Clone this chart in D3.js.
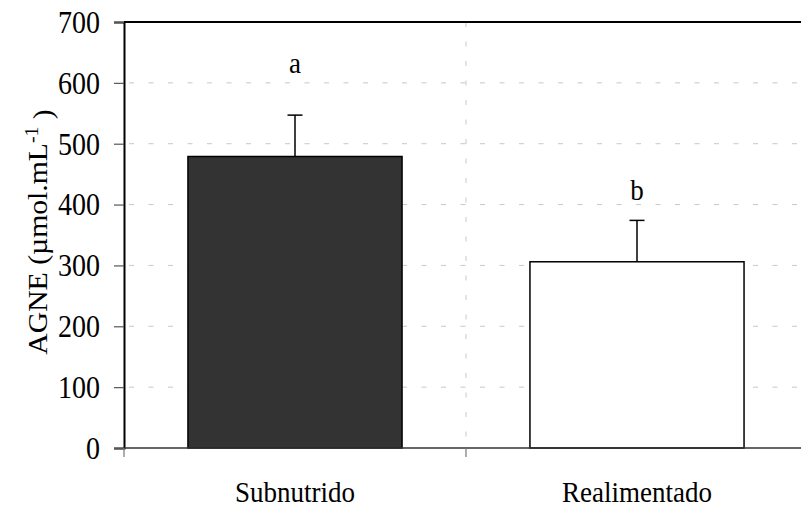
<!DOCTYPE html>
<html>
<head>
<meta charset="utf-8">
<script src="https://cdn.jsdelivr.net/npm/d3@7"></script>
<style>
  body { margin: 0; background: #fff; }
  text { font-family: "Liberation Serif", "Times New Roman", serif; fill: #000; }
</style>
</head>
<body>
<svg id="chart" width="801" height="513"></svg>
<script>
const categories = ["Subnutrido", "Realimentado"];
const means = [479, 306];
const errors = [68, 68];
const letters = ["a", "b"];
const letterValues = [617, 407];
const yTicks = [0, 100, 200, 300, 400, 500, 600, 700];

const width = 801;
const height = 513;
const margin = { top: 22, left: 124, bottom: 65 };
const plotRight = 808;
// the original picture is a bit stretched vertically
const stretch = 1.09;

const svg = d3.select("#chart");

const x = d3.scaleBand()
    .domain(categories)
    .range([margin.left, plotRight])
    .padding(0);

const y = d3.scaleLinear()
    .domain([0, 700])
    .range([height - margin.bottom, margin.top]);

const barWidth = x.bandwidth() * 0.626;

// Gridlines (horizontal)
svg.append("g")
    .selectAll("line")
    .data(yTicks.filter(d => d > 0 && d < 700))
    .enter()
    .append("line")
    .attr("x1", margin.left)
    .attr("x2", plotRight)
    .attr("y1", d => y(d))
    .attr("y2", d => y(d))
    .attr("stroke", "#c8c8c8")
    .attr("stroke-width", 1)
    .attr("stroke-dasharray", "5,14.5")
    .attr("stroke-dashoffset", -5);

// Vertical gridline between categories
svg.append("line")
    .attr("x1", x(categories[1]))
    .attr("x2", x(categories[1]))
    .attr("y1", y(700))
    .attr("y2", y(0))
    .attr("stroke", "#c8c8c8")
    .attr("stroke-width", 1)
    .attr("stroke-dasharray", "5,14.5");

// Top border
svg.append("line")
    .attr("x1", margin.left)
    .attr("x2", plotRight)
    .attr("y1", y(700))
    .attr("y2", y(700))
    .attr("stroke", "#000")
    .attr("stroke-width", 2);

// Bars
svg.append("g")
    .selectAll("rect")
    .data(categories)
    .enter()
    .append("rect")
    .attr("x", d => x(d) + (x.bandwidth() - barWidth) / 2)
    .attr("y", (d, i) => y(means[i]))
    .attr("width", barWidth)
    .attr("height", (d, i) => y(0) - y(means[i]))
    .attr("fill", (d, i) => i === 0 ? "#333333" : "#ffffff")
    .attr("stroke", "#000")
    .attr("stroke-width", 1.5);

// Error bars (upper only)
const err = svg.append("g");
categories.forEach((c, i) => {
    const cx = x(c) + x.bandwidth() / 2;
    err.append("line")
        .attr("x1", cx).attr("x2", cx)
        .attr("y1", y(means[i]))
        .attr("y2", y(means[i] + errors[i]))
        .attr("stroke", "#000")
        .attr("stroke-width", 1.5);
    err.append("line")
        .attr("x1", cx - 7.5).attr("x2", cx + 7.5)
        .attr("y1", y(means[i] + errors[i]))
        .attr("y2", y(means[i] + errors[i]))
        .attr("stroke", "#000")
        .attr("stroke-width", 1.5);
});

// Significance letters
svg.append("g")
    .selectAll("text")
    .data(letters)
    .enter()
    .append("text")
    .attr("transform", (d, i) =>
        `translate(${x(categories[i]) + x.bandwidth() / 2},${y(letterValues[i])}) scale(1,${stretch})`)
    .attr("text-anchor", "middle")
    .style("font-size", "27px")
    .text(d => d);

// Y axis
const yAxis = svg.append("g")
    .attr("transform", `translate(${margin.left},0)`)
    .call(d3.axisLeft(y).tickValues(yTicks).tickSize(10).tickPadding(14));
yAxis.select(".domain").attr("stroke", "#000").attr("stroke-width", 2);
yAxis.selectAll(".tick line").attr("stroke", "#555").attr("stroke-width", 1.2);
yAxis.selectAll(".tick text")
    .style("font-size", "28px")
    .style("font-family", "'Liberation Serif', 'Times New Roman', serif")
    .attr("fill", "#000")
    .attr("dy", "0.34em")
    .attr("transform", `scale(1,${stretch})`);

// X axis line and ticks at category boundaries
svg.append("line")
    .attr("x1", margin.left)
    .attr("x2", plotRight)
    .attr("y1", y(0))
    .attr("y2", y(0))
    .attr("stroke", "#333")
    .attr("stroke-width", 1.5);

const boundaries = categories.map(c => x(c)).concat([plotRight]);
svg.append("g")
    .selectAll("line")
    .data(boundaries)
    .enter()
    .append("line")
    .attr("x1", d => d).attr("x2", d => d)
    .attr("y1", y(0)).attr("y2", y(0) + 9)
    .attr("stroke", "#777")
    .attr("stroke-width", 1.2);

// X labels
svg.append("g")
    .selectAll("text")
    .data(categories)
    .enter()
    .append("text")
    .attr("transform", d => `translate(${x(d) + x.bandwidth() / 2},502) scale(1,${stretch})`)
    .attr("text-anchor", "middle")
    .style("font-size", "27px")
    .text(d => d);

// Y label (rotated, so the stretch runs along the text)
const yLabel = svg.append("text")
    .attr("transform", `translate(47,232) rotate(-90) scale(1.1,1)`)
    .attr("text-anchor", "middle")
    .style("font-size", "27px");
yLabel.append("tspan").text("AGNE (\u00b5mol.mL");
yLabel.append("tspan").attr("dy", "-0.5em").style("font-size", "18px").text("-1");
yLabel.append("tspan").attr("dy", "0.5em").text(" )");
</script>
</body>
</html>
